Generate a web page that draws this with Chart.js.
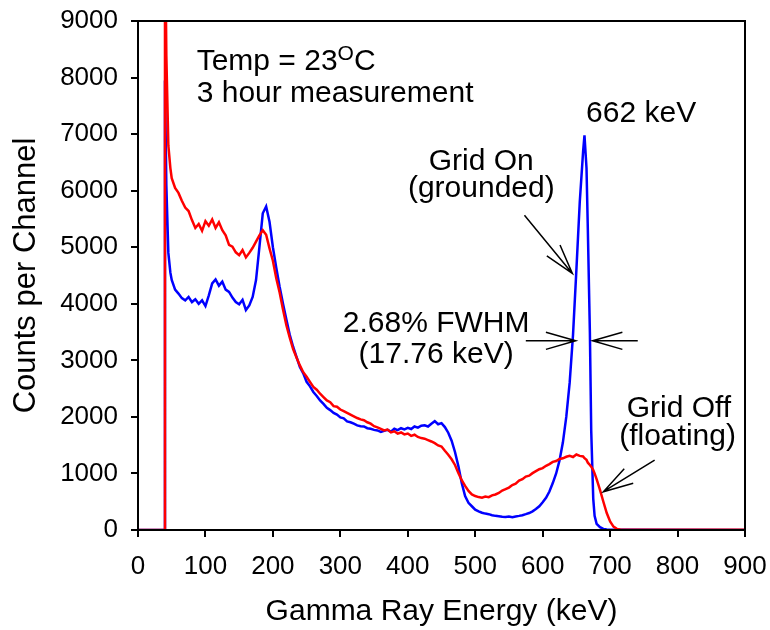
<!DOCTYPE html>
<html>
<head>
<meta charset="utf-8">
<script src="https://cdn.jsdelivr.net/npm/chart.js@4.4.1/dist/chart.umd.min.js"></script>
<style>
  body { margin: 0; background: #fff; }
  #wrap { width: 770px; height: 630px; }
</style>
</head>
<body>
<div id="wrap"><canvas id="myChart" width="770" height="630"></canvas></div>
<script>
// Energy grid (keV) shared by both spectra
const energy = [
  0, 39, 40, 42, 45, 48, 50, 55, 60, 65,
  70, 75, 80, 85, 90, 95, 100, 105, 110, 115,
  120, 125, 130, 135, 140, 145, 150, 155, 160, 165,
  170, 175, 180, 185, 190, 195, 200, 205, 210, 215,
  220, 225, 230, 235, 240, 245, 250, 255, 260, 265,
  270, 275, 280, 285, 290, 295, 300, 305, 310, 315,
  320, 325, 330, 335, 340, 345, 350, 355, 360, 365,
  370, 375, 380, 385, 390, 395, 400, 405, 410, 415,
  420, 425, 430, 435, 440, 445, 450, 455, 460, 465,
  470, 475, 480, 485, 490, 495, 500, 505, 510, 515,
  520, 525, 530, 535, 540, 545, 550, 555, 560, 565,
  570, 575, 580, 585, 590, 595, 600, 605, 610, 615,
  620, 625, 630, 635, 640, 645, 650, 655, 660, 662,
  665, 667, 670, 672, 675, 677, 680, 685, 690, 695,
  700, 705, 710, 715, 720, 900
];

// Grid On (grounded) - blue
const gridOnCounts = [
  0, 0, 7950, 6100, 4900, 4550, 4420, 4250, 4180, 4100,
  4060, 4120, 4030, 4080, 4000, 4060, 3960, 4150, 4360, 4430,
  4320, 4390, 4250, 4210, 4110, 4030, 3990, 4070, 3890, 3970,
  4120, 4420, 5000, 5600, 5720, 5450, 5000, 4640, 4300, 4000,
  3720, 3450, 3240, 3060, 2880, 2770, 2620, 2540, 2440, 2370,
  2290, 2230, 2160, 2120, 2070, 2040, 1990, 1975, 1920, 1905,
  1880, 1850, 1835, 1830, 1800, 1790, 1770, 1760, 1735, 1755,
  1770, 1740, 1790, 1765, 1800, 1780, 1805, 1785, 1830, 1810,
  1845, 1850, 1830, 1880, 1925, 1870, 1890, 1820, 1720, 1580,
  1380, 1130, 830, 600, 480, 420, 360, 330, 305, 290,
  280, 262, 250, 245, 236, 230, 240, 228, 240, 250,
  262, 280, 300, 330, 370, 420, 490, 570, 680, 830,
  1000, 1230, 1550, 2000, 2600, 3450, 4600, 5800, 6700, 6980,
  6400, 5300, 3500, 1750, 550, 250, 110, 50, 20, 10,
  6, 5, 4, 4, 3, 2
];

// Grid Off (floating) - red
const gridOffCounts = [
  0, 0, 11000, 8400, 6800, 6400, 6220, 6050, 5960, 5820,
  5700, 5640, 5480, 5340, 5410, 5290, 5460, 5380, 5490, 5340,
  5440, 5300, 5210, 5040, 5010, 4910, 4860, 4950, 4820, 4900,
  4990, 5100, 5210, 5300, 5220, 4980, 4760, 4450, 4200, 3900,
  3620, 3400, 3200, 3050, 2910, 2790, 2710, 2620, 2530, 2480,
  2410, 2350, 2290, 2260, 2190, 2180, 2130, 2100, 2070, 2040,
  2010, 1980, 1955, 1940, 1905, 1880, 1835, 1815, 1790, 1760,
  1775, 1725, 1745, 1705, 1725, 1690, 1705, 1665, 1685, 1645,
  1625, 1615, 1590, 1565, 1535, 1495, 1475, 1400, 1330, 1250,
  1150, 1010, 880, 780, 690, 630, 600, 582, 570, 590,
  580, 612, 628, 655, 698, 722, 750, 795, 818, 872,
  898, 945, 960, 1005, 1040, 1075, 1095, 1135, 1165, 1205,
  1220, 1255, 1268, 1295, 1310, 1290, 1335, 1310, 1300, 1270,
  1240, 1190, 1150, 1120, 1060, 1000, 900, 710, 500, 300,
  150, 60, 20, 8, 5, 3
];

const FONT = "'Liberation Sans', Arial, sans-serif";

// Text labels placed in data coordinates (keV, counts)
const notes = [
  { text: '3 hour measurement', x: 87, y: 7570, align: 'left' },
  { text: '662 keV', x: 746, y: 7215, align: 'center' },
  { text: 'Grid On', x: 509, y: 6362, align: 'center' },
  { text: '(grounded)', x: 509, y: 5885, align: 'center' },
  { text: '2.68% FWHM', x: 442, y: 3504, align: 'center' },
  { text: '(17.76 keV)', x: 442, y: 2951, align: 'center' },
  { text: 'Grid Off', x: 802, y: 2002, align: 'center' },
  { text: '(floating)', x: 800, y: 1502, align: 'center' }
];

// Arrows: tail -> tip, in data coordinates
const arrows = [
  { x0: 573, y0: 5566, x1: 644, y1: 4536 },
  { x0: 575, y0: 3345, x1: 649, y1: 3345 },
  { x0: 741, y0: 3345, x1: 674, y1: 3345 },
  { x0: 766, y0: 1237, x1: 690, y1: 677 }
];

const annotationPlugin = {
  id: 'annotations',
  afterDraw(chart) {
    const { ctx, chartArea: a, scales: { x, y } } = chart;
    ctx.save();

    // box round the plot
    ctx.strokeStyle = '#000';
    ctx.lineWidth = 2;
    ctx.strokeRect(a.left, a.top, a.right - a.left, a.bottom - a.top);

    ctx.fillStyle = '#000';
    ctx.textBaseline = 'alphabetic';

    // Temp = 23 °C with raised O
    let px = x.getPixelForValue(87);
    let py = y.getPixelForValue(8130);
    ctx.font = '30px ' + FONT;
    ctx.textAlign = 'left';
    ctx.fillText('Temp = 23', px, py);
    px += ctx.measureText('Temp = 23').width;
    ctx.font = '21px ' + FONT;
    ctx.fillText('O', px, py - 10);
    px += ctx.measureText('O').width;
    ctx.font = '30px ' + FONT;
    ctx.fillText('C', px, py);

    notes.forEach(n => {
      ctx.textAlign = n.align;
      ctx.fillText(n.text, x.getPixelForValue(n.x), y.getPixelForValue(n.y));
    });

    // arrows with open heads
    ctx.lineWidth = 1.5;
    arrows.forEach(ar => {
      const x0 = x.getPixelForValue(ar.x0), y0 = y.getPixelForValue(ar.y0);
      const x1 = x.getPixelForValue(ar.x1), y1 = y.getPixelForValue(ar.y1);
      const ang = Math.atan2(y0 - y1, x0 - x1);
      const len = 31, spread = 16 * Math.PI / 180;
      ctx.beginPath();
      ctx.moveTo(x0, y0);
      ctx.lineTo(x1, y1);
      ctx.moveTo(x1 + len * Math.cos(ang + spread), y1 + len * Math.sin(ang + spread));
      ctx.lineTo(x1, y1);
      ctx.lineTo(x1 + len * Math.cos(ang - spread), y1 + len * Math.sin(ang - spread));
      ctx.stroke();
    });

    ctx.restore();
  }
};

const toPoints = counts => energy.map((e, i) => ({ x: e, y: counts[i] }));

const ctx = document.getElementById('myChart').getContext('2d');
const myChart = new Chart(ctx, {
  type: 'line',
  data: {
    datasets: [
      {
        label: 'Grid Off (floating)',
        data: toPoints(gridOffCounts),
        borderColor: '#ff0000',
        borderWidth: 2.5,
        pointRadius: 0,
        tension: 0
      },
      {
        label: 'Grid On (grounded)',
        data: toPoints(gridOnCounts),
        borderColor: '#0000ff',
        borderWidth: 2.5,
        pointRadius: 0,
        tension: 0
      }
    ]
  },
  options: {
    responsive: false,
    animation: false,
    layout: { padding: { top: 21, right: 25, left: 0, bottom: 0 } },
    plugins: {
      legend: { display: false },
      tooltip: { enabled: false }
    },
    scales: {
      x: {
        type: 'linear',
        min: 0,
        max: 900,
        afterFit: scale => {
          scale.height = 100;
          scale.paddingLeft = 0;
          scale.paddingRight = 0;
        },
        border: { color: '#000', width: 2 },
        grid: { drawOnChartArea: false, drawTicks: true, tickLength: 7, color: '#000', lineWidth: 2 },
        ticks: { stepSize: 100, padding: 14, color: '#000', font: { family: FONT, size: 26 } },
        title: {
          display: true,
          text: 'Gamma Ray Energy (keV)',
          color: '#000',
          font: { family: FONT, size: 30 },
          padding: { top: 0, bottom: 0 }
        }
      },
      y: {
        min: 0,
        max: 9000,
        afterFit: scale => {
          scale.width = 138;
          scale.paddingTop = 0;
          scale.paddingBottom = 0;
        },
        border: { color: '#000', width: 2 },
        grid: { drawOnChartArea: false, drawTicks: true, tickLength: 7, color: '#000', lineWidth: 2 },
        ticks: {
          stepSize: 1000,
          padding: 13,
          color: '#000',
          font: { family: FONT, size: 26 },
          callback: v => String(v)
        },
        title: {
          display: true,
          text: 'Counts per Channel',
          color: '#000',
          font: { family: FONT, size: 31 },
          padding: { top: 8, bottom: 0 }
        }
      }
    }
  },
  plugins: [annotationPlugin]
});
</script>
</body>
</html>
